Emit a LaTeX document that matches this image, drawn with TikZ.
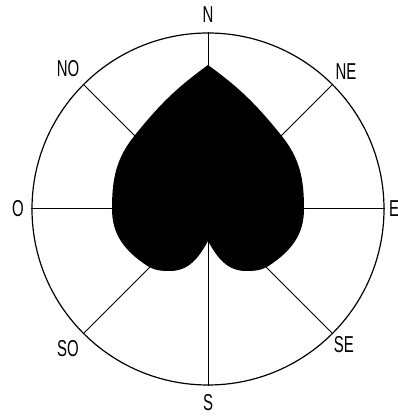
\documentclass[tikz,border=0pt]{standalone}
\usepackage{fontspec}
\newfontfamily\lblfont[FakeStretch=0.65]{Liberation Sans}
\usetikzlibrary{positioning}

\begin{document}
\begin{tikzpicture}[x=1pt, y=1pt,
  rim/.style={draw, circle, line width=1.2pt, minimum size=352pt, inner sep=0pt},
  spk/.style={line width=1pt},
  lbl/.style={font=\lblfont\fontsize{23}{23}\selectfont, inner sep=0pt},
  blob/.style={fill=black}]
\useasboundingbox (-208,-208) rectangle (190,209);
\coordinate (c) at (0,0);
\node[rim] (rose) at (c) {};
% spokes first, the blob hides their inner part
\foreach \a in {0,45,...,315} \draw[spk] (c) -- (rose.\a);
\fill[blob] (0,144) to[out=-144,in=51] (-73,74) to[out=-129,in=90] (-96,0)
  to[out=-90,in=146] (-62,-56) to[out=-34,in=180] (-38,-62)
  to[out=0,in=-119] (0,-32) to[out=-61,in=180] (38,-62)
  to[out=0,in=-146] (62,-56) to[out=34,in=-90] (96,0)
  to[out=90,in=-51] (73,74) to[out=129,in=-36] (0,144) -- cycle;
\foreach \a/\t/\r in {90/N/194, 45/NE/195, 0/E/186, -45/SE/192,
    -90/S/194, -135/SO/198, 180/O/190, 135/NO/198}
  \node[lbl] (l\t) at (\a:\r) {\t};
\end{tikzpicture}
\end{document}
